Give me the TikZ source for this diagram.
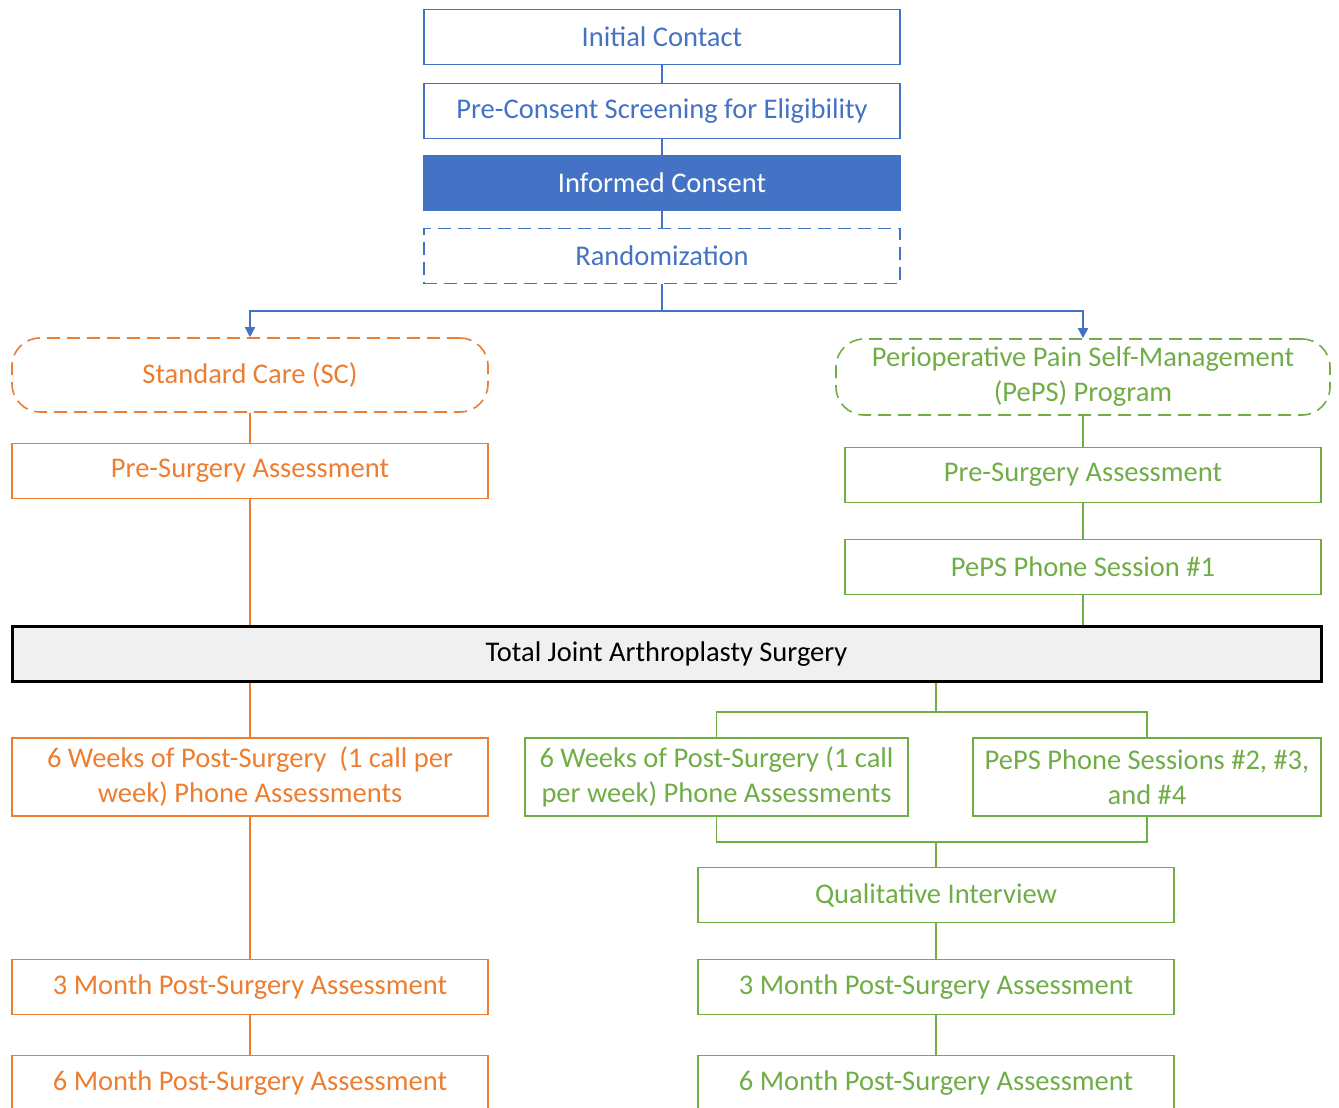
\documentclass[tikz,border=0pt]{standalone}
\usepackage{fontspec}
\setmainfont{Carlito}
\usetikzlibrary{arrows.meta}
\definecolor{cblue}{HTML}{4472C4}
\definecolor{corange}{HTML}{ED7D31}
\definecolor{cgreen}{HTML}{70AD47}
\begin{document}
\begin{tikzpicture}[x=1pt,y=-1pt,
  box/.style={draw,rectangle,line width=1.6pt,minimum width=476pt,minimum height=55pt,
    inner sep=0pt,align=center,font=\fontsize{28.5}{35}\selectfont},
  bluebox/.style={box,draw=cblue,text=cblue},
  orbox/.style={box,draw=corange,text=corange},
  grbox/.style={box,draw=cgreen,text=cgreen},
  arm/.style={rounded corners=28pt,dash pattern=on 13pt off 7pt,minimum height=76pt},
  link/.style={line width=1.6pt}]
\clip (0,0) rectangle (1339,1108);

% enrolment
\node[bluebox] (contact) at (662,37) {Initial Contact};
\node[bluebox] (screen) at (662,111) {Pre-Consent Screening for Eligibility};
\node[bluebox,fill=cblue,text=white] (consent) at (662,183) {Informed Consent};
\node[bluebox,dash pattern=on 13pt off 7pt] (random) at (662,256) {Randomization};
\coordinate (split) at (662,311);

\draw[link,cblue] (contact) -- (screen);
\draw[link,cblue] (screen) -- (consent);
\draw[link,cblue] (consent) -- (random);

% standard care arm
\node[orbox,arm,minimum height=74pt] (sc) at (250,375) {Standard Care (SC)};
\node[orbox] (scpre) at (250,471) {Pre-Surgery Assessment};

% PePS arm
\node[grbox,arm,minimum width=494pt] (peps) at (1083,377) {Perioperative Pain Self-Management\\(PePS) Program};
\node[grbox] (pepspre) at (1083,475) {Pre-Surgery Assessment};
\node[grbox] (call1) at (1083,567) {PePS Phone Session \#1};

\draw[link,cblue] (random) -- (split);
\draw[link,cblue,-{Triangle[length=10pt,width=10pt]}] (split) -| (sc);
\draw[link,cblue,-{Triangle[length=10pt,width=10pt]}] (split) -| (peps);

% surgery
\node[box,draw=black,line width=3pt,fill=black!6,minimum width=1309pt] (tja) at (666.5,654) {Total Joint Arthroplasty Surgery};

\draw[link,corange] (sc) -- (scpre);
\draw[link,corange] (scpre) -- (scpre |- tja.north);
\draw[link,cgreen] (peps) -- (pepspre);
\draw[link,cgreen] (pepspre) -- (call1);
\draw[link,cgreen] (call1) -- (call1 |- tja.north);

% after surgery, SC
\node[orbox,minimum height=78pt] (scweeks) at (250,777) {6 Weeks of Post-Surgery \ (1 call per\\week) Phone Assessments};
\node[orbox] (sc3m) at (250,987) {3 Month Post-Surgery Assessment};
\node[orbox] (sc6m) at (250,1083) {6 Month Post-Surgery Assessment};

\draw[link,corange] (scweeks |- tja.south) -- (scweeks);
\draw[link,corange] (scweeks) -- (sc3m);
\draw[link,corange] (sc3m) -- (sc6m);

% after surgery, PePS
\node[grbox,minimum width=383pt,minimum height=78pt] (pepsweeks) at (716.5,777) {6 Weeks of Post-Surgery (1 call\\per week) Phone Assessments};
\node[grbox,minimum width=348pt,minimum height=78pt] (calls) at (1147,777) {PePS Phone Sessions \#2, \#3,\\and \#4};
\node[grbox] (interview) at (936,895) {Qualitative Interview};
\node[grbox] (peps3m) at (936,987) {3 Month Post-Surgery Assessment};
\node[grbox] (peps6m) at (936,1083) {6 Month Post-Surgery Assessment};
\coordinate (fork) at (936,712);
\coordinate (join) at (936,842);

\draw[link,cgreen] (interview |- tja.south) -- (fork);
\draw[link,cgreen] (fork) -| (pepsweeks);
\draw[link,cgreen] (fork) -| (calls);
\draw[link,cgreen] (pepsweeks) |- (join);
\draw[link,cgreen] (calls) |- (join);
\draw[link,cgreen] (join) -- (interview);
\draw[link,cgreen] (interview) -- (peps3m);
\draw[link,cgreen] (peps3m) -- (peps6m);
\end{tikzpicture}
\end{document}
